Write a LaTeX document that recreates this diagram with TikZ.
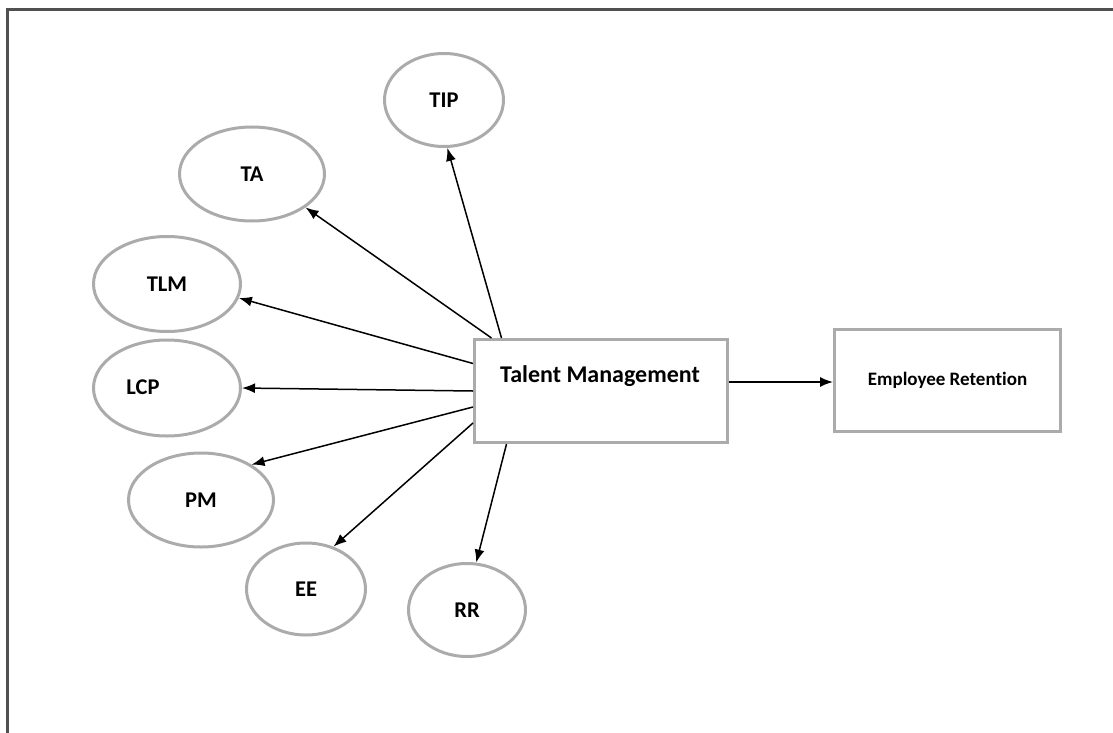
\documentclass[tikz,border=0pt]{standalone}
\usepackage{fontspec}
\setmainfont{Carlito}[Ligatures=NoCommon]
\usetikzlibrary{shapes.geometric,arrows.meta}

\definecolor{framegray}{HTML}{505050}
\definecolor{shapegray}{HTML}{ABABAB}

\tikzset{
  frameline/.style={line width=2.6pt, draw=framegray},
  oval/.style={ellipse, draw=shapegray, line width=3pt, inner sep=0pt,
               font=\fontsize{22.5}{26}\selectfont\bfseries},
  boxnode/.style={rectangle, draw=shapegray, line width=3pt, inner sep=0pt},
  lbl/.style={inner sep=0pt, font=\fontsize{24}{28}\selectfont\bfseries},
  arr/.style={-{Latex[length=13pt,width=10pt]}, line width=1.5pt, draw=black},
}

\begin{document}
\begin{tikzpicture}[x=1pt, y=-1pt]
  \useasboundingbox (0,0) rectangle (1113,733);

  % page frame (left and top edges)
  \draw[frameline] (7.3,733) |- (1113,9.5);

  % central construct and outcome
  \node[boxnode, minimum width=253pt, minimum height=103pt] (tm) at (601,391) {};
  \node[lbl] (tmtext) at (600,376) {Talent Management};
  \node[boxnode, minimum width=226pt, minimum height=102pt,
        font=\fontsize{19}{23}\selectfont\bfseries] (er) at (947.5,380.5) {Employee Retention};

  % dimensions of talent management
  \node[oval, minimum width=119pt, minimum height=93pt] (tip) at (444,100) {TIP};
  \node[oval, minimum width=145pt, minimum height=94pt] (ta)  at (252,174) {TA};
  \node[oval, minimum width=147pt, minimum height=95pt] (tlm) at (167,284) {TLM};
  \node[oval, minimum width=147pt, minimum height=96pt] (lcp) at (167,388) {};
  \node[lbl, font=\fontsize{22.5}{26}\selectfont\bfseries] (lcptext) at (143,387) {LCP};
  \node[oval, minimum width=145pt, minimum height=94pt] (pm)  at (201,500) {PM};
  \node[oval, minimum width=119pt, minimum height=92pt] (ee)  at (306,589) {EE};
  \node[oval, minimum width=117pt, minimum height=93pt] (rr)  at (467,610) {RR};

  % connectors
  \draw[arr] ([xshift=28.5pt]tm.north west) -- (tip.-86);
  \draw[arr] ([xshift=18.5pt]tm.north west) -- (ta.-32);
  \draw[arr] ([yshift=-25.5pt]tm.north west) -- (tlm.-11);
  \draw[arr] (tm.west) -- (lcp.east);
  \draw[arr] ([yshift=-16pt]tm.west) -- (pm.35);
  \draw[arr] ([yshift=-32pt]tm.west) -- (ee.57);
  \draw[arr] ([xshift=33.5pt]tm.south west) -- (rr.79);
  \draw[arr] ([yshift=9pt]tm.east) -- ([yshift=9pt]tm.east -| er.west);
\end{tikzpicture}
\end{document}
